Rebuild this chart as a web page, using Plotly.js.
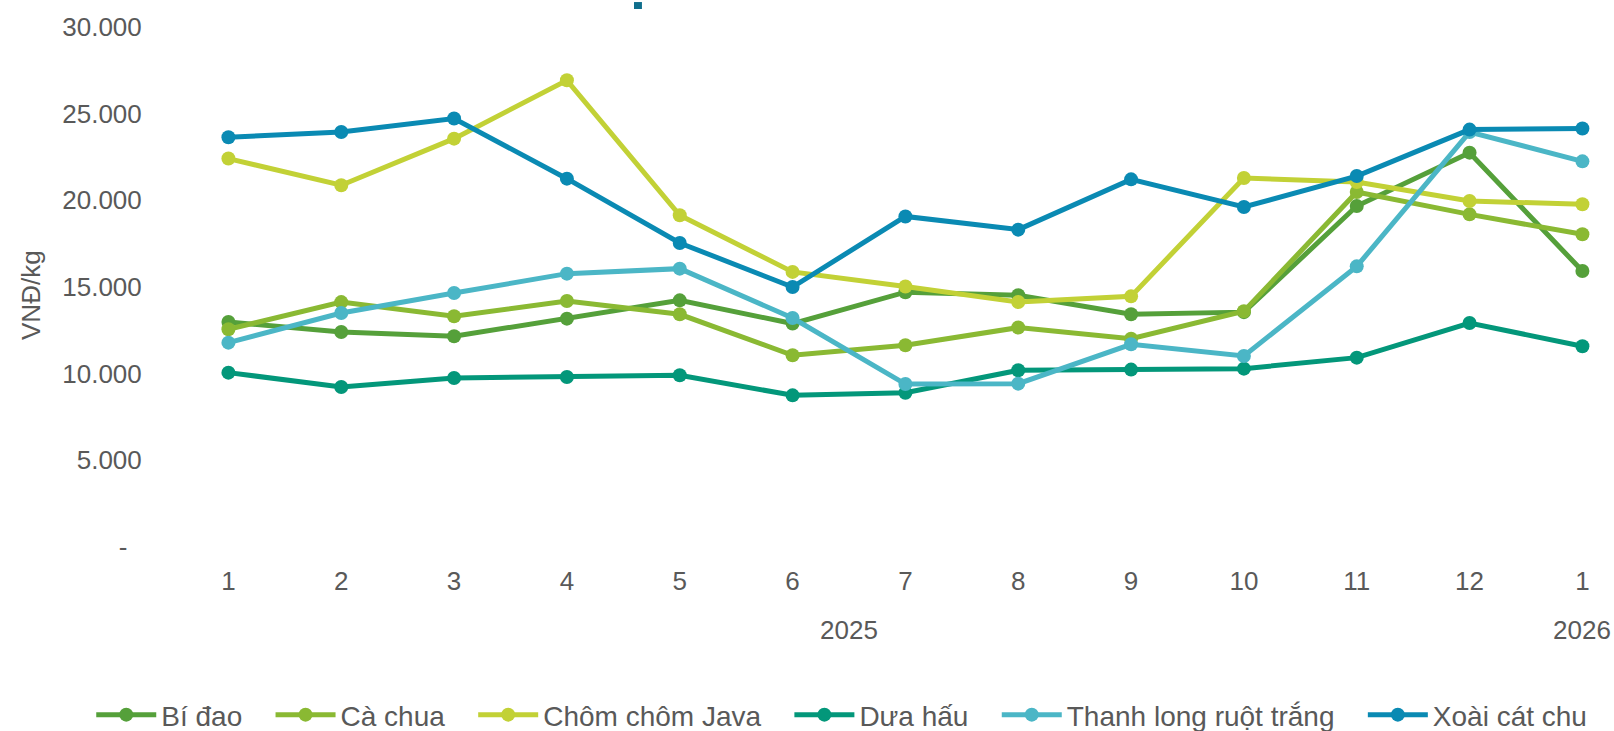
<!DOCTYPE html>
<html>
<head>
<meta charset="utf-8">
<script src="https://cdn.plot.ly/plotly-3.0.1.min.js"></script>
<style>
  html, body { margin: 0; padding: 0; background: #ffffff; }
  #chart { width: 1614px; height: 731px; }
</style>
</head>
<body>
<div id="chart"></div>
<script>
// Category labels (two-level axis: year / month)
const years  = ["2025","2025","2025","2025","2025","2025","2025","2025","2025","2025","2025","2025","2026"];
const months = ["1","2","3","4","5","6","7","8","9","10","11","12","1"];

// Series values (VNĐ/kg)
const biDao      = [12980, 12400, 12160, 13175, 14230, 12890, 14700, 14520, 13425, 13550, 19670, 22750, 15920];
const caChua     = [12560, 14130, 13310, 14190, 13425, 11060, 11640, 12660, 12020, 13600, 20480, 19190, 18040];
const chomChom   = [22410, 20870, 23560, 26925, 19140, 15870, 15030, 14135, 14460, 21290, 21060, 19960, 19770];
const duaHau     = [10060,  9230,  9750,  9810,  9905,  8750,  8900, 10195, 10235, 10290, 10925, 12920, 11580];
const thanhLong  = [11790, 13500, 14650, 15770, 16060, 13210,  9400,  9425, 11695, 11020, 16190, 23940, 22250];
const xoaiCatChu = [23640, 23940, 24720, 21250, 17540, 15000, 19070, 18310, 21210, 19615, 21400, 24080, 24140];

const seriesNames = ["Bí đao", "Cà chua", "Chôm chôm Java", "Dưa hấu", "Thanh long ruột trắng", "Xoài cát chu"];
const seriesData  = [biDao, caChua, chomChom, duaHau, thanhLong, xoaiCatChu];
const seriesColors = ["#55a03a", "#8ab933", "#c2d136", "#03977a", "#4bb6c6", "#0a8ab3"];

// Y tick labels
const yTickVals = [0, 5000, 10000, 15000, 20000, 25000, 30000];
const yTickText = ["-\u00a0\u00a0", "5.000", "10.000", "15.000", "20.000", "25.000", "30.000"];
const yTitle = "VNĐ/kg";

const FONT = "Liberation Sans, Arial, sans-serif";
const GREY = "#595959";

// category positions
const idx = months.map((_, i) => i);

// year group labels centred under their months
const yearGroups = [...new Set(years)].map(yr => {
  const pos = idx.filter(i => years[i] === yr);
  return { year: yr, center: pos.reduce((a, b) => a + b, 0) / pos.length };
});

const PAD = "\u00a0\u00a0\u00a0";
const traces = seriesNames.map((name, i) => ({
  type: "scatter",
  mode: "lines+markers",
  name: name + PAD,
  x: idx,
  y: seriesData[i],
  line: { color: seriesColors[i], width: 5 },
  marker: { color: seriesColors[i], size: 14 },
  hoverinfo: "skip"
}));

const annotations = yearGroups.map(g => ({
  xref: "x", yref: "paper",
  x: g.center, y: -0.1596,
  xanchor: "center", yanchor: "middle",
  text: g.year, showarrow: false,
  font: { family: FONT, size: 26, color: GREY }
}));
annotations.push({
  xref: "paper", yref: "paper",
  x: -0.0978, y: 0.4846,
  xanchor: "center", yanchor: "middle",
  textangle: -90,
  text: yTitle, showarrow: false,
  font: { family: FONT, size: 26, color: GREY }
});

const layout = {
  width: 1614,
  height: 731,
  margin: { l: 172, r: 0, t: 27, b: 184, autoexpand: false },
  paper_bgcolor: "#ffffff",
  plot_bgcolor: "#ffffff",
  font: { family: FONT, size: 26, color: GREY },
  showlegend: true,
  legend: {
    orientation: "h",
    xref: "paper", yref: "paper",
    x: -0.056, xanchor: "left",
    y: -0.323, yanchor: "middle",
    font: { family: FONT, size: 28, color: GREY },
    itemwidth: 60,
    traceorder: "normal"
  },
  xaxis: {
    type: "linear",
    range: [-0.5, 12.28],
    tickvals: idx,
    ticktext: months,
    showgrid: false,
    zeroline: false,
    showline: false,
    ticks: "outside",
    ticklen: 11,
    tickcolor: "rgba(0,0,0,0)",
    tickfont: { family: FONT, size: 26, color: GREY }
  },
  yaxis: {
    range: [0, 30000],
    tickvals: yTickVals,
    ticktext: yTickText,
    showgrid: false,
    zeroline: false,
    showline: false,
    ticks: "outside",
    ticklen: 24,
    tickcolor: "rgba(0,0,0,0)",
    tickfont: { family: FONT, size: 26, color: GREY }
  },
  annotations: annotations,
  shapes: [{
    type: "rect", xref: "paper", yref: "paper",
    x0: 0.3204, x1: 0.3259, y0: 1.0346, y1: 1.048,
    fillcolor: "#106f8d", line: { width: 0 }
  }]
};

Plotly.newPlot("chart", traces, layout, { staticPlot: true, displayModeBar: false });
</script>
</body>
</html>
